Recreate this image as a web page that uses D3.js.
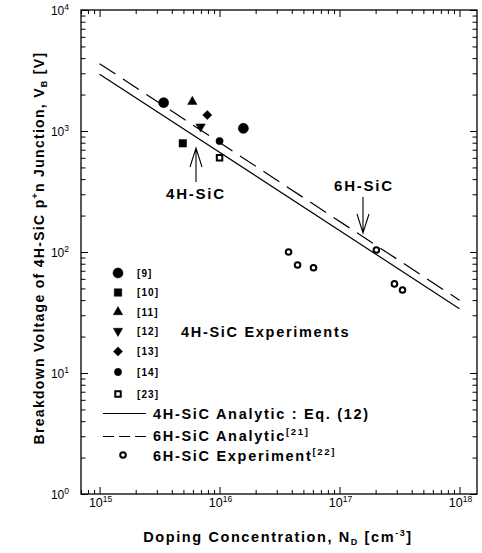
<!DOCTYPE html>
<html>
<head>
<meta charset="utf-8">
<script src="https://cdn.jsdelivr.net/npm/d3@7"></script>
<style>
  body { margin: 0; background: #fff; }
  text { font-family: "Liberation Sans", Arial, sans-serif; fill: #000; }
</style>
</head>
<body>
<div id="chart"></div>
<script>
// Axis decades and exponent labels
const xMajors = [1e15, 1e16, 1e17, 1e18];
const xExps = ["15", "16", "17", "18"];
const yMajors = [1, 10, 100, 1000, 10000];
const yExps = ["0", "1", "2", "3", "4"];

// 4H-SiC experiments [N_D (cm^-3), V_B (V)]
const ref9 = [[3.42e15, 1714], [1.58e16, 1052]];
const ref10 = [[4.94e15, 791]];
const ref11 = [[5.93e15, 1746]];
const ref12 = [[6.95e15, 1086]];
const ref13 = [[7.9e15, 1356]];
const ref14 = [[1.0e16, 826]];
const ref23 = [[1.0e16, 601]];
const refLabels = ["[9]", "[10]", "[11]", "[12]", "[13]", "[14]", "[23]"];

// 6H-SiC experiment [22]
const exp6H = [[3.76e16, 100], [4.47e16, 78], [6.07e16, 74], [2.03e17, 104], [2.87e17, 54.5], [3.35e17, 48.5]];

// analytic lines (straight on log-log)
const analytic4H = [[1e15, 2950], [1e18, 34]];
const analytic6H = [[1e15, 3600], [1e18, 40]];

// Chart settings
const width = 482, height = 553;
const plot = { left: 81, right: 477, top: 10, bottom: 494 };

const svg = d3.select("#chart")
  .append("svg")
  .attr("width", width)
  .attr("height", height);

const x = d3.scaleLog().domain([7e14, 1.4e18]).range([plot.left, plot.right]);
const y = d3.scaleLog().domain([1, 1e4]).range([plot.bottom, plot.top]);

const xMinors = x.ticks().filter(v => !xMajors.includes(v));
const yMinors = y.ticks().filter(v => !yMajors.includes(v));

// ticks, all pointing inward
function tickAxis(axis, pos, values, size) {
  const g = svg.append("g")
    .attr("transform", pos)
    .call(axis.tickValues(values).tickSize(size).tickFormat(""));
  g.select(".domain").remove();
  g.selectAll("line").attr("stroke", "#000").attr("stroke-width", 1);
}
tickAxis(d3.axisBottom(x), `translate(0,${plot.bottom})`, xMinors, -4);
tickAxis(d3.axisBottom(x), `translate(0,${plot.bottom})`, xMajors, -7);
tickAxis(d3.axisTop(x), `translate(0,${plot.top})`, xMinors, -4);
tickAxis(d3.axisTop(x), `translate(0,${plot.top})`, xMajors, -7);
tickAxis(d3.axisLeft(y), `translate(${plot.left},0)`, yMinors, -4.5);
tickAxis(d3.axisLeft(y), `translate(${plot.left},0)`, yMajors, -7);
tickAxis(d3.axisRight(y), `translate(${plot.right},0)`, yMinors, -4.5);
tickAxis(d3.axisRight(y), `translate(${plot.right},0)`, yMajors, -7);

// frame
svg.append("rect")
  .attr("x", plot.left).attr("y", plot.top)
  .attr("width", plot.right - plot.left).attr("height", plot.bottom - plot.top)
  .attr("fill", "none").attr("stroke", "#000").attr("stroke-width", 1.3);

// tick labels 10^n
function powLabel(t, exp) {
  t.append("tspan").text("10");
  t.append("tspan").attr("font-size", 8.5).attr("dy", -5).text(exp);
}
xMajors.forEach((v, i) => {
  const t = svg.append("text")
    .attr("x", x(v) + 1).attr("y", 507)
    .attr("text-anchor", "middle").attr("font-size", 12.5);
  powLabel(t, xExps[i]);
});
yMajors.forEach((v, i) => {
  const t = svg.append("text")
    .attr("x", 69).attr("y", y(v) + 4.5)
    .attr("text-anchor", "end").attr("font-size", 12);
  powLabel(t, yExps[i]);
});

// axis titles
const xt = svg.append("text")
  .attr("x", 278).attr("y", 542)
  .attr("text-anchor", "middle")
  .attr("font-size", 14.5).attr("font-weight", "bold").attr("letter-spacing", 1.6);
xt.append("tspan").text("Doping Concentration, N");
xt.append("tspan").attr("font-size", 9).attr("dy", 3).text("D");
xt.append("tspan").attr("dy", -3).text(" [cm");
xt.append("tspan").attr("font-size", 9).attr("dy", -6).text("-3");
xt.append("tspan").attr("dy", 6).text("]");

const yt = svg.append("text")
  .attr("transform", "translate(44,248) rotate(-90)")
  .attr("text-anchor", "middle")
  .attr("font-size", 14).attr("font-weight", "bold").attr("letter-spacing", 1.3);
yt.append("tspan").text("Breakdown Voltage of 4H-SiC p");
yt.append("tspan").attr("font-size", 9).attr("dy", -6).text("+");
yt.append("tspan").attr("dy", 6).text("n Junction, V");
yt.append("tspan").attr("font-size", 9).attr("dy", 3).text("B");
yt.append("tspan").attr("dy", -3).text(" [V]");

// analytic lines
const line = d3.line().x(d => x(d[0])).y(d => y(d[1]));
svg.append("path").datum(analytic4H).attr("d", line)
  .attr("fill", "none").attr("stroke", "#000").attr("stroke-width", 1.2);
svg.append("path").datum(analytic6H).attr("d", line)
  .attr("fill", "none").attr("stroke", "#000").attr("stroke-width", 1.2)
  .attr("stroke-dasharray", "19,9");

// marker styles
const markers = [
  { data: ref9,  type: d3.symbolCircle,   size: 80, rot: 0,   open: false },
  { data: ref10, type: d3.symbolSquare,   size: 56, rot: 0,   open: false },
  { data: ref11, type: d3.symbolTriangle, size: 38, rot: 0,   open: false },
  { data: ref12, type: d3.symbolTriangle, size: 38, rot: 180, open: false },
  { data: ref13, type: d3.symbolSquare,   size: 42, rot: 45,  open: false },
  { data: ref14, type: d3.symbolCircle,   size: 42, rot: 0,   open: false },
  { data: ref23, type: d3.symbolSquare,   size: 30, rot: 0,   open: true }
];

function drawMarker(m, px, py) {
  svg.append("path")
    .attr("d", d3.symbol().type(m.type).size(m.size)())
    .attr("transform", `translate(${px},${py}) rotate(${m.rot})`)
    .attr("fill", m.open ? "#fff" : "#000")
    .attr("stroke", "#000")
    .attr("stroke-width", m.open ? 2 : 0.5);
}

markers.forEach(m => m.data.forEach(d => drawMarker(m, x(d[0]), y(d[1]))));

// 6H experiments (open circles)
svg.selectAll(".exp6h")
  .data(exp6H)
  .enter()
  .append("circle")
  .attr("class", "exp6h")
  .attr("cx", d => x(d[0]))
  .attr("cy", d => y(d[1]))
  .attr("r", 2.8)
  .attr("fill", "#fff")
  .attr("stroke", "#000")
  .attr("stroke-width", 2);

// arrows with labels
function arrow(ax, y1, y2, up) {
  const tip = up ? y1 : y2;
  const d = up ? 19 : -19;
  svg.append("path")
    .attr("d", `M${ax},${y1}L${ax},${y2}M${ax - 6},${tip + d}L${ax},${tip}L${ax + 6},${tip + d}`)
    .attr("fill", "none").attr("stroke", "#000").attr("stroke-width", 1.1);
}
arrow(196, 148, 182, true);
arrow(363, 197, 233, false);

const bold = (t, size, ls) => t.attr("font-size", size).attr("font-weight", "bold").attr("letter-spacing", ls);
bold(svg.append("text").attr("x", 196).attr("y", 199).attr("text-anchor", "middle"), 15, 1.8).text("4H-SiC");
bold(svg.append("text").attr("x", 364).attr("y", 191).attr("text-anchor", "middle"), 15, 1.8).text("6H-SiC");

// legend: 4H experiments
const legY = [273, 292.5, 312, 331, 351.5, 372, 394];
markers.forEach((m, i) => {
  drawMarker(m, 118, legY[i]);
  bold(svg.append("text").attr("x", 137).attr("y", legY[i] + 3.5), 10, 1.1).text(refLabels[i]);
});
bold(svg.append("text").attr("x", 181).attr("y", 337), 14.5, 1.7).text("4H-SiC Experiments");

// legend: lines and 6H experiment
svg.append("line").attr("x1", 103).attr("x2", 146).attr("y1", 413.5).attr("y2", 413.5)
  .attr("stroke", "#000").attr("stroke-width", 1.2);
svg.append("line").attr("x1", 103).attr("x2", 146).attr("y1", 436.5).attr("y2", 436.5)
  .attr("stroke", "#000").attr("stroke-width", 1.2).attr("stroke-dasharray", "11,5");
svg.append("circle").attr("cx", 123).attr("cy", 455).attr("r", 2.8)
  .attr("fill", "#fff").attr("stroke", "#000").attr("stroke-width", 2);

bold(svg.append("text").attr("x", 153).attr("y", 418.5), 14.5, 1.7).text("4H-SiC Analytic : Eq. (12)");
const l2 = bold(svg.append("text").attr("x", 153).attr("y", 441), 14.5, 1.7);
l2.append("tspan").text("6H-SiC Analytic");
l2.append("tspan").attr("font-size", 9.5).attr("dy", -6).text("[21]");
const l3 = bold(svg.append("text").attr("x", 153).attr("y", 460.5), 14.5, 1.7);
l3.append("tspan").text("6H-SiC Experiment");
l3.append("tspan").attr("font-size", 9.5).attr("dy", -6).text("[22]");
</script>
</body>
</html>
